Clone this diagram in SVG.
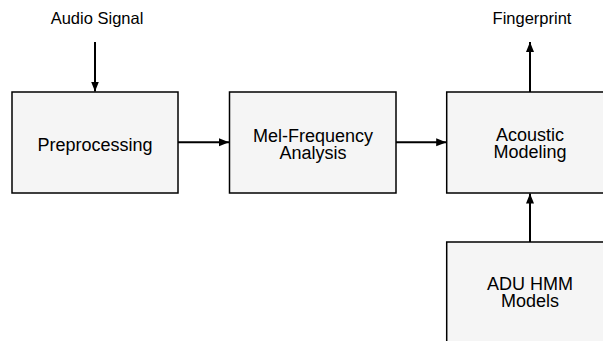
<svg xmlns="http://www.w3.org/2000/svg" width="603" height="341" viewBox="0 0 603 341">
<defs>
<style>
.box{fill:#f5f5f5;stroke:#000;stroke-width:1.5}
.lbl{font-family:"Liberation Sans",Arial,sans-serif;font-size:18px;fill:#000;text-anchor:middle}
.io{font-family:"Liberation Sans",Arial,sans-serif;font-size:16.5px;fill:#000;text-anchor:middle}
.conn{stroke:#000;stroke-width:2;fill:none;marker-end:url(#ah)}
</style>
<marker id="ah" markerWidth="10" markerHeight="10" viewBox="0 0 10 10" refX="10" refY="5" orient="auto" markerUnits="userSpaceOnUse">
<path d="M0,1 L10,5 L0,9 Z" fill="#000"/>
</marker>
</defs>
<rect width="603" height="341" fill="#fff"/>
<text class="io" x="97" y="24">Audio Signal</text>
<text class="io" x="532" y="24">Fingerprint</text>
<g id="preprocessing">
<rect class="box" x="12" y="92" width="166" height="101"/>
<text class="lbl" x="95" y="150.5">Preprocessing</text>
</g>
<g id="mel">
<rect class="box" x="229.5" y="92" width="166.5" height="101"/>
<text class="lbl" x="313" y="142">Mel-Frequency</text>
<text class="lbl" x="313" y="159">Analysis</text>
</g>
<g id="acoustic">
<rect class="box" x="446.7" y="92" width="166.5" height="101"/>
<text class="lbl" x="530" y="141">Acoustic</text>
<text class="lbl" x="530" y="158">Modeling</text>
</g>
<g id="adu">
<rect class="box" x="446.7" y="242" width="166.5" height="120"/>
<text class="lbl" x="530" y="290">ADU HMM</text>
<text class="lbl" x="530" y="307.3">Models</text>
</g>
<g id="connectors">
<line class="conn" x1="95" y1="42" x2="95" y2="91.5"/>
<line class="conn" x1="178" y1="142.3" x2="229" y2="142.3"/>
<line class="conn" x1="396" y1="142.3" x2="446.2" y2="142.3"/>
<line class="conn" x1="530" y1="92" x2="530" y2="42"/>
<line class="conn" x1="530" y1="242" x2="530" y2="193.5"/>
</g>
</svg>
